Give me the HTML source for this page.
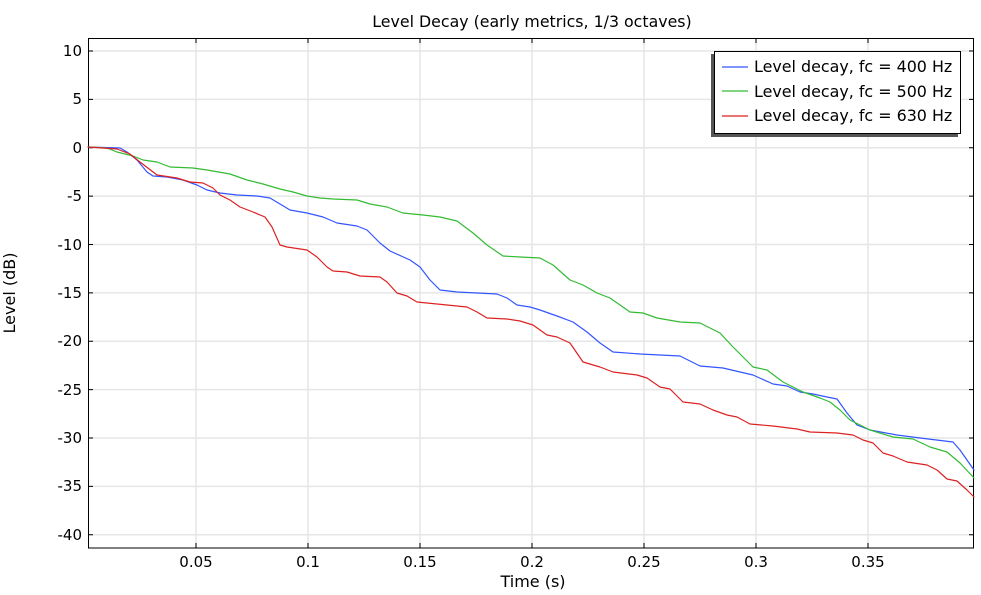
<!DOCTYPE html>
<html><head><meta charset="utf-8"><style>body{margin:0;background:#fff}svg{display:block;font-family:"DejaVu Sans","Liberation Sans",sans-serif}</style></head><body>
<svg width="981" height="595" viewBox="0 0 981 595" xmlns="http://www.w3.org/2000/svg">
<rect width="981" height="595" fill="#fff"/>
<g stroke="#e6e6e6" stroke-width="1.5">
<line x1="196" y1="38" x2="196" y2="548"/><line x1="308" y1="38" x2="308" y2="548"/><line x1="420" y1="38" x2="420" y2="548"/><line x1="532" y1="38" x2="532" y2="548"/><line x1="644" y1="38" x2="644" y2="548"/><line x1="756" y1="38" x2="756" y2="548"/><line x1="868" y1="38" x2="868" y2="548"/>
<line x1="88" y1="51" x2="974" y2="51"/><line x1="88" y1="99.4" x2="974" y2="99.4"/><line x1="88" y1="147.8" x2="974" y2="147.8"/><line x1="88" y1="196.1" x2="974" y2="196.1"/><line x1="88" y1="244.5" x2="974" y2="244.5"/><line x1="88" y1="292.9" x2="974" y2="292.9"/><line x1="88" y1="341.3" x2="974" y2="341.3"/><line x1="88" y1="389.6" x2="974" y2="389.6"/><line x1="88" y1="438" x2="974" y2="438"/><line x1="88" y1="486.4" x2="974" y2="486.4"/><line x1="88" y1="534.8" x2="974" y2="534.8"/>
</g>
<g stroke="#000" stroke-width="1">
<line x1="196" y1="548" x2="196" y2="543"/><line x1="308" y1="548" x2="308" y2="543"/><line x1="420" y1="548" x2="420" y2="543"/><line x1="532" y1="548" x2="532" y2="543"/><line x1="644" y1="548" x2="644" y2="543"/><line x1="756" y1="548" x2="756" y2="543"/><line x1="868" y1="548" x2="868" y2="543"/>
<line x1="196" y1="38" x2="196" y2="43"/><line x1="308" y1="38" x2="308" y2="43"/><line x1="420" y1="38" x2="420" y2="43"/><line x1="532" y1="38" x2="532" y2="43"/><line x1="644" y1="38" x2="644" y2="43"/><line x1="756" y1="38" x2="756" y2="43"/><line x1="868" y1="38" x2="868" y2="43"/>
<path d="M88 51h5M88 99.4h5M88 147.8h5M88 196.1h5M88 244.5h5M88 292.9h5M88 341.3h5M88 389.6h5M88 438h5M88 486.4h5M88 534.8h5"/>
<path d="M974 51h-5M974 99.4h-5M974 147.8h-5M974 196.1h-5M974 244.5h-5M974 292.9h-5M974 341.3h-5M974 389.6h-5M974 438h-5M974 486.4h-5M974 534.8h-5"/>
</g>
<rect x="88.5" y="38.5" width="885" height="509.5" fill="none" stroke="#000" stroke-width="1"/>
<g fill="none" stroke-width="1.2" stroke-linejoin="round" stroke-linecap="round">
<polyline stroke="#3355ff" points="88,147 120,148 127,152 137,160 147,172 153,176 167,177 183,180 197,185 207,190 220,193 237,195 257,196 270,198 280,204 290,210 307,213 323,217 337,223 357,226 367,230 380,243 390,251 410,260 420,267 430,280 440,290 457,292 497,294 507,298 517,305 530,307 540,310 557,316 573,322 587,332 600,343 613,352 640,354 680,356 700,366 723,368 753,375 773,384 787,386 800,392 813,394 827,397 837,399 847,413 857,425 870,430 897,435 920,438 953,442 960,450 974,470"/>
<polyline stroke="#33bb33" points="88,147 107,148 117,152 133,156 143,160 157,162 170,167 193,168 207,170 230,174 247,180 263,184 280,189 293,192 307,196 320,198 333,199 357,200 370,204 387,207 403,213 423,215 440,217 457,221 473,233 487,245 503,256 520,257 540,258 553,265 570,280 583,285 597,293 610,298 630,312 643,313 657,318 680,322 700,323 720,333 733,347 753,367 767,370 783,382 803,392 820,398 830,402 840,410 850,420 870,430 893,437 913,439 930,447 947,452 960,463 974,478"/>
<polyline stroke="#dd2222" points="88,147 117,149 130,154 140,162 157,175 177,178 190,182 203,183 213,188 220,195 230,200 240,207 253,212 265,217 272,227 280,245 287,247 307,250 317,257 327,267 333,271 347,272 360,276 380,277 387,282 397,293 407,296 417,302 427,303 447,305 467,307 477,312 487,318 507,319 520,321 533,325 547,335 557,337 570,343 583,362 600,367 613,372 637,375 647,378 660,387 670,389 683,402 700,404 713,410 727,415 737,417 750,424 773,426 797,429 810,432 837,433 853,435 863,440 873,443 883,453 893,456 907,462 927,465 937,470 947,479 957,481 967,490 974,497"/>
</g>
<g font-size="15" fill="#000" text-anchor="end">
<text x="82" y="56">10</text><text x="82" y="104">5</text><text x="82" y="153">0</text><text x="82" y="201">-5</text><text x="82" y="250">-10</text><text x="82" y="298">-15</text><text x="82" y="346">-20</text><text x="82" y="395">-25</text><text x="82" y="443">-30</text><text x="82" y="491">-35</text><text x="82" y="540">-40</text>
</g>
<g font-size="15" fill="#000" text-anchor="middle">
<text x="196" y="567">0.05</text><text x="308" y="567">0.1</text><text x="420" y="567">0.15</text><text x="532" y="567">0.2</text><text x="644" y="567">0.25</text><text x="756" y="567">0.3</text><text x="868" y="567">0.35</text>
<text x="533" y="587" font-size="16">Time (s)</text>
<text x="532" y="27" font-size="15.8">Level Decay (early metrics, 1/3 octaves)</text>
<text transform="translate(15,293) rotate(-90)" font-size="16">Level (dB)</text>
</g>
<rect x="711" y="54" width="247" height="83" fill="#555"/>
<rect x="714.5" y="51.5" width="246" height="82" fill="#fff" stroke="#000"/>
<line x1="722" y1="67" x2="748" y2="67" stroke="#3355ff" stroke-width="1.2"/>
<line x1="722" y1="91" x2="748" y2="91" stroke="#33bb33" stroke-width="1.2"/>
<line x1="722" y1="116" x2="748" y2="116" stroke="#dd2222" stroke-width="1.2"/>
<g font-size="15.9" fill="#000"><text x="754" y="72">Level decay, fc = 400 Hz</text><text x="754" y="97">Level decay, fc = 500 Hz</text><text x="754" y="121">Level decay, fc = 630 Hz</text></g>
</svg>
</body></html>
